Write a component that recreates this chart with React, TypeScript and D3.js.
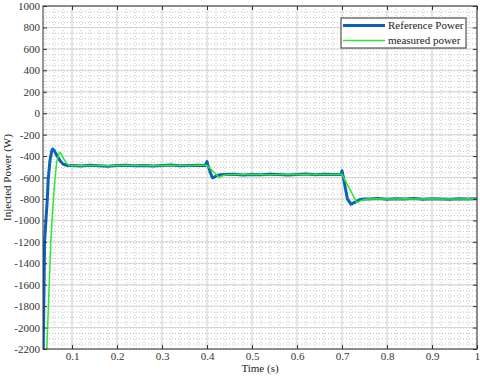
import { useRef, useEffect } from "react";
import * as d3 from "d3";

// axis ticks
const xTicks = [0.1, 0.2, 0.3, 0.4, 0.5, 0.6, 0.7, 0.8, 0.9, 1];
const yTicks = [1000, 800, 600, 400, 200, 0, -200, -400, -600, -800, -1000, -1200, -1400, -1600, -1800, -2000, -2200];

// Reference Power (blue)
const refTime = [
  0.034, 0.036, 0.039, 0.042, 0.045, 0.047, 0.051, 0.055, 0.057, 0.061, 0.067, 0.073, 0.08, 0.09,
  0.1, 0.12, 0.14, 0.16, 0.18, 0.2, 0.22, 0.24, 0.26, 0.28, 0.3, 0.32, 0.34, 0.36, 0.38, 0.396,
  0.4, 0.402, 0.408, 0.412, 0.416, 0.422, 0.43,
  0.44, 0.46, 0.48, 0.5, 0.52, 0.54, 0.56, 0.58, 0.6, 0.62, 0.64, 0.66, 0.68, 0.698,
  0.7, 0.703, 0.712, 0.72, 0.728, 0.74, 0.75,
  0.76, 0.78, 0.8, 0.82, 0.84, 0.86, 0.88, 0.9, 0.92, 0.94, 0.96, 0.98, 1.0,
];
const refPower = [
  -2400, -2200, -1200, -1000, -810, -620, -440, -350, -335, -352, -400, -440, -475, -488,
  -489, -492, -486, -490, -494, -488, -485, -491, -487, -493, -489, -484, -490, -487, -486, -488,
  -452, -482, -560, -602, -598, -582, -575,
  -573, -570, -576, -571, -574, -569, -572, -577, -571, -568, -574, -570, -573, -571,
  -537, -600, -800, -850, -832, -806, -801,
  -800, -797, -803, -799, -801, -796, -802, -798, -800, -803, -798, -801, -799,
];

// measured power (green)
const measTime = [
  0.043, 0.044, 0.053, 0.0585, 0.062, 0.066, 0.072, 0.076, 0.081, 0.088, 0.095,
  0.1, 0.12, 0.14, 0.16, 0.18, 0.2, 0.22, 0.24, 0.26, 0.28, 0.3, 0.32, 0.34, 0.36, 0.38, 0.4,
  0.427, 0.435, 0.445,
  0.46, 0.48, 0.5, 0.52, 0.54, 0.56, 0.58, 0.6, 0.62, 0.64, 0.66, 0.68, 0.7,
  0.733, 0.74, 0.75,
  0.76, 0.78, 0.8, 0.82, 0.84, 0.86, 0.88, 0.9, 0.92, 0.94, 0.96, 0.98, 1.0,
];
const measPower = [
  -2400, -2200, -1180, -810, -623, -452, -365, -380, -421, -470, -488,
  -487, -490, -488, -489, -491, -487, -486, -489, -488, -490, -487, -486, -488, -487, -486, -485,
  -600, -582, -574,
  -572, -573, -571, -572, -574, -571, -573, -572, -570, -572, -571, -572, -570,
  -835, -818, -806,
  -801, -799, -800, -801, -799, -800, -801, -799, -800, -801, -800, -799, -800,
];

const W = 480;
const H = 380;
const margin = { left: 43, right: 3, top: 6, bottom: 31 };
const FONT = "Liberation Serif";

const App = () => {
  const ref = useRef<SVGSVGElement | null>(null);

  useEffect(() => {
    const svg = d3.select(ref.current);
    svg.selectAll("*").remove();

    const x = d3.scaleLinear().domain([0.0355, 1]).range([margin.left, W - margin.right]);
    const y = d3.scaleLinear().domain([-2200, 1000]).range([H - margin.bottom, margin.top]);
    const [x0, x1] = x.range();
    const [y0, y1] = y.range();

    svg.append("rect").attr("x", x0).attr("y", y1).attr("width", x1 - x0).attr("height", y0 - y1).attr("fill", "#fff");

    // minor dotted grid
    const g = svg.append("g");
    g.selectAll(".mx")
      .data(d3.range(0.04, 1.0001, 0.02))
      .join("line")
      .attr("x1", (d) => x(d)).attr("x2", (d) => x(d))
      .attr("y1", y0).attr("y2", y1)
      .attr("stroke", "#c4c4c4").attr("stroke-width", 1).attr("stroke-dasharray", "1,2");
    g.selectAll(".my")
      .data(d3.range(-2200, 1001, 50))
      .join("line")
      .attr("x1", x0).attr("x2", x1)
      .attr("y1", (d) => y(d) + 0.5).attr("y2", (d) => y(d) + 0.5)
      .attr("stroke", "#c4c4c4").attr("stroke-width", 1).attr("stroke-dasharray", "1,2");

    // major grid
    g.selectAll(".gx")
      .data(xTicks)
      .join("line")
      .attr("x1", (d) => x(d)).attr("x2", (d) => x(d))
      .attr("y1", y0).attr("y2", y1)
      .attr("stroke", "#d6d6d6").attr("stroke-width", 1);
    g.selectAll(".gy")
      .data(yTicks)
      .join("line")
      .attr("x1", x0).attr("x2", x1)
      .attr("y1", (d) => y(d)).attr("y2", (d) => y(d))
      .attr("stroke", "#d6d6d6").attr("stroke-width", 1);

    // clip for the curves
    svg.append("clipPath").attr("id", "plotclip")
      .append("rect").attr("x", x0).attr("y", y1).attr("width", x1 - x0).attr("height", y0 - y1);

    const line = d3.line<[number, number]>().x((d) => x(d[0])).y((d) => y(d[1]));
    const refData = refTime.map((t, i) => [t, refPower[i]] as [number, number]);
    const measData = measTime.map((t, i) => [t, measPower[i]] as [number, number]);

    const curves = svg.append("g").attr("clip-path", "url(#plotclip)");
    curves.append("path").attr("d", line(refData)).attr("fill", "none")
      .attr("stroke", "#0b63b8").attr("stroke-width", 3).attr("stroke-linejoin", "round");
    curves.append("path").attr("d", line(measData)).attr("fill", "none")
      .attr("stroke", "#2ee62e").attr("stroke-width", 1.5).attr("stroke-linejoin", "round");

    // axes, ticks pointing inward
    const style = (sel: any) => {
      sel.attr("font-family", FONT).attr("font-size", 11);
      sel.select(".domain").remove();
      sel.selectAll(".tick line").attr("stroke", "#333");
      sel.selectAll("text").attr("fill", "#333");
    };
    svg.append("g").attr("transform", `translate(0,${y0})`)
      .call(d3.axisBottom(x).tickValues(xTicks).tickSize(-4).tickPadding(3).tickFormat((d: any) => String(d)))
      .call(style);
    svg.append("g").attr("transform", `translate(0,${y1})`)
      .call(d3.axisTop(x).tickValues(xTicks).tickSize(-4).tickFormat(() => ""))
      .call(style);
    svg.append("g").attr("transform", `translate(${x0},0)`)
      .call(d3.axisLeft(y).tickValues(yTicks).tickSize(-4).tickPadding(3).tickFormat((d: any) => String(d)))
      .call(style);
    svg.append("g").attr("transform", `translate(${x1},0)`)
      .call(d3.axisRight(y).tickValues(yTicks).tickSize(-4).tickFormat(() => ""))
      .call(style);

    svg.append("rect").attr("x", x0).attr("y", y1).attr("width", x1 - x0).attr("height", y0 - y1)
      .attr("fill", "none").attr("stroke", "#333").attr("stroke-width", 1);

    // axis labels
    svg.append("text").attr("x", (x0 + x1) / 2).attr("y", 372).attr("text-anchor", "middle")
      .attr("font-family", FONT).attr("font-size", 11).attr("fill", "#222").text("Time (s)");
    svg.append("text").attr("transform", `translate(11,${(y0 + y1) / 2}) rotate(-90)`).attr("text-anchor", "middle")
      .attr("font-family", FONT).attr("font-size", 11).attr("fill", "#222").text("Injected Power (W)");

    // legend
    const lg = svg.append("g").attr("transform", "translate(341,18)");
    lg.append("rect").attr("width", 125).attr("height", 30).attr("fill", "#fff").attr("stroke", "#333").attr("stroke-width", 1);
    const items = [
      { label: "Reference Power", color: "#0b63b8", w: 3 },
      { label: "measured power", color: "#2ee62e", w: 1.5 },
    ];
    items.forEach((it, i) => {
      const yy = 7.5 + i * 15;
      lg.append("line").attr("x1", 2).attr("x2", 44).attr("y1", yy).attr("y2", yy)
        .attr("stroke", it.color).attr("stroke-width", it.w);
      lg.append("text").attr("x", 47).attr("y", yy + 3.5)
        .attr("font-family", FONT).attr("font-size", 11).attr("fill", "#222").text(it.label);
    });
  }, []);

  return (
    <svg ref={ref} width={W} height={H} style={{ position: "absolute", left: 0, top: 0, background: "#fff", fontFamily: FONT }} />
  );
};

export default App;
